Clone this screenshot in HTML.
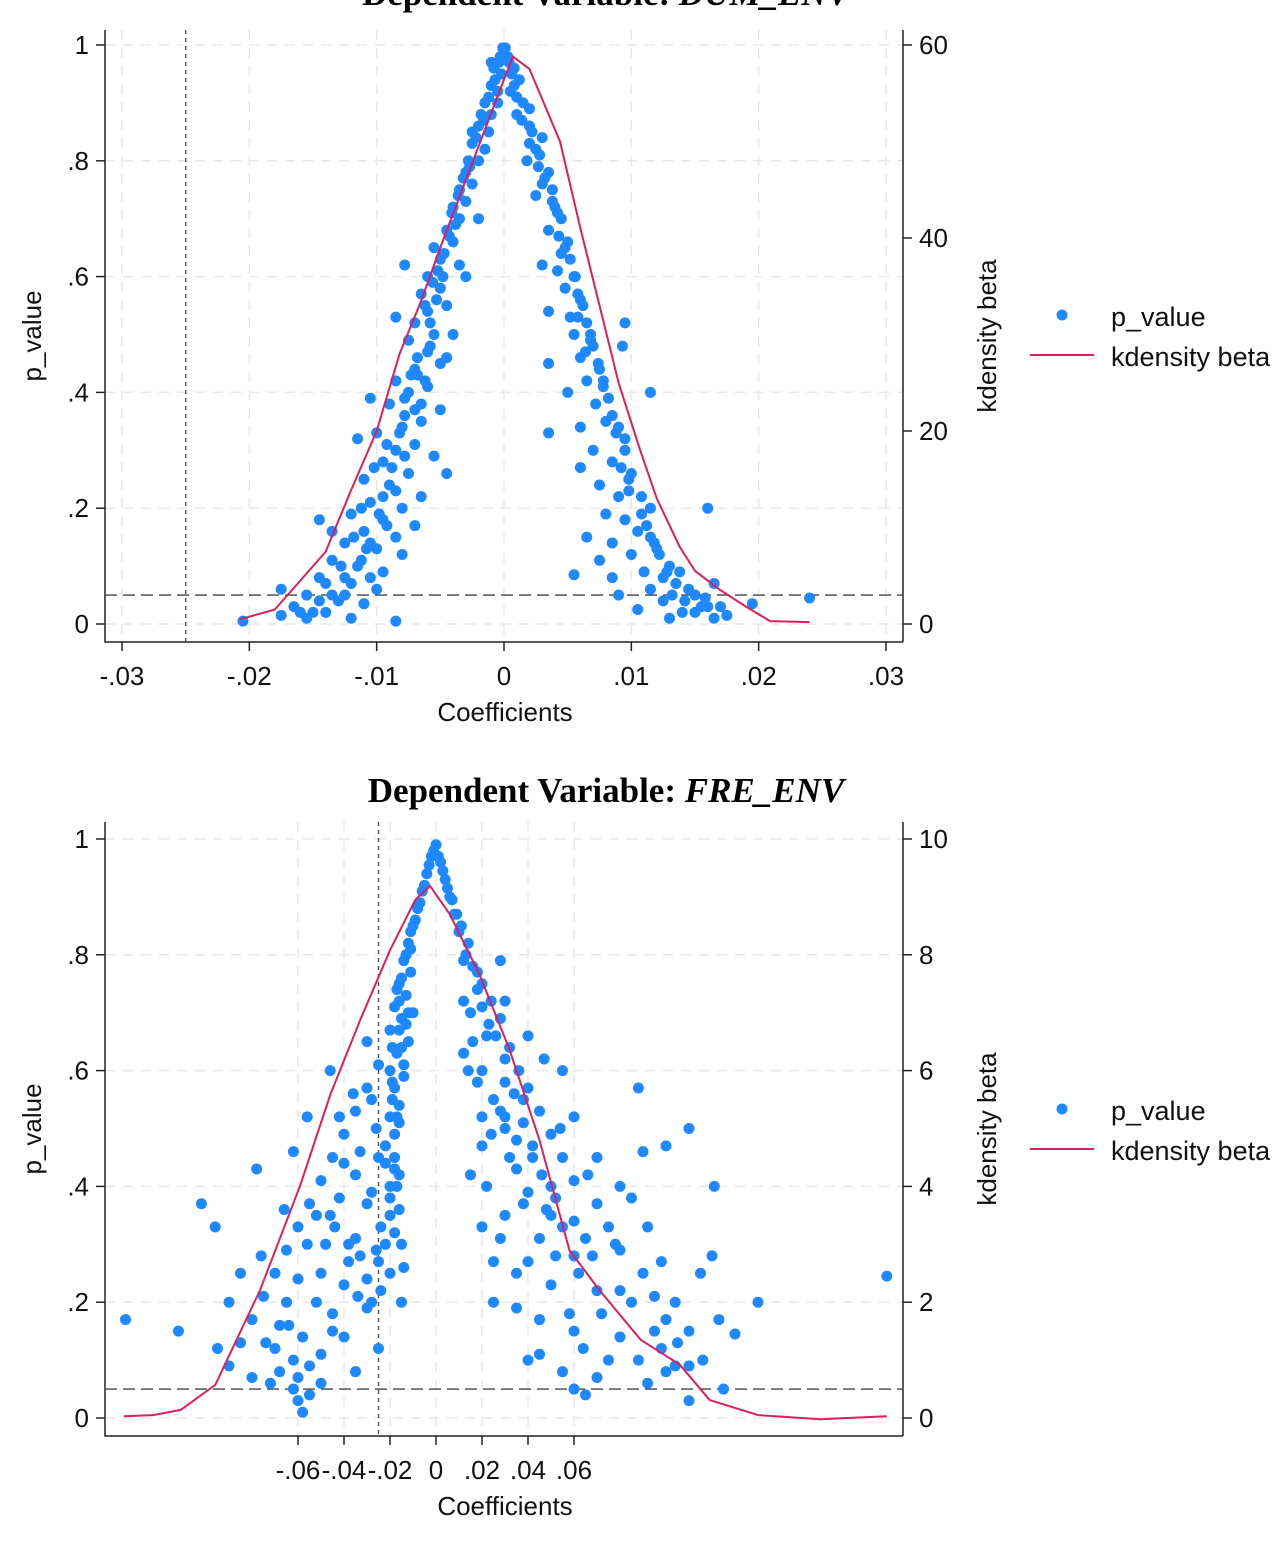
<!DOCTYPE html>
<html><head><meta charset="utf-8">
<style>
html,body{margin:0;padding:0;background:#fff;}
svg{display:block;font-family:"Liberation Sans",sans-serif;}
</style></head>
<body>
<svg id="chart" width="1281" height="1548" viewBox="0 0 1281 1548" xmlns="http://www.w3.org/2000/svg"></svg>
<script>
// ---------- DATA: top chart (DUM_ENV) ----------
const topXTicks = [-0.03,-0.02,-0.01,0,0.01,0.02,0.03];
const topXTickLabels = ["-.03","-.02","-.01","0",".01",".02",".03"];
const pTicks = [0,0.2,0.4,0.6,0.8,1];
const pTickLabels = ["0",".2",".4",".6",".8","1"];
const topDensTicks = [0,20,40,60];
const topDensX = [-0.0207,-0.018,-0.016,-0.014,-0.012,-0.010,-0.0082,-0.0065,-0.005,-0.003,-0.001,0.0007,0.002,0.0044,0.006,0.0075,0.009,0.0107,0.012,0.0138,0.015,0.017,0.019,0.0209,0.024];
const topDensY = [0.5,1.5,4.5,7.5,13.9,20,28,33.5,39,46,53,58.8,57.5,50,41,33,25,18,13,8,5.5,3.5,1.8,0.3,0.2];
const topPts = [
[-0.0003,.98],[-0.0008,.96],[-0.0002,.95],[-0.001,.93],[-0.0005,.92],[-0.0015,.9],[-0.001,.88],[-0.002,.86],[-0.0012,.85],[-0.0025,.83],[-0.0015,.82],[-0.002,.8],[-0.003,.78],[-0.0025,.76],[-0.0035,.75],[-0.003,.73],[-0.004,.72],[-0.0035,.7],[-0.0045,.68],[-0.004,.66],[-0.0055,.65],[-0.005,.63],[-0.0035,.62],[-0.006,.6],[-0.005,.58],[-0.0065,.57],[-0.0045,.55],[-0.006,.54],[-0.007,.52],[-0.0055,.5],[-0.0075,.49],[-0.006,.47],[-0.0045,.46],[-0.007,.44],[-0.0085,.42],[-0.006,.41],[-0.0075,.4],[-0.009,.38],[-0.005,.37],[-0.0065,.35],[-0.008,.34],[-0.01,.33],[-0.007,.31],[-0.0085,.3],[-0.0055,.29],[-0.0095,.28],[-0.0075,.26],[-0.011,.25],[-0.009,.24],[-0.0065,.22],[-0.0105,.21],[-0.008,.2],[-0.012,.19],[-0.0095,.18],[-0.007,.17],[-0.011,.16],[-0.0085,.15],[-0.0125,.14],[-0.01,.13],[-0.008,.12],[-0.0135,.11],[-0.0115,.1],[-0.0095,.09],[-0.0145,.08],[-0.012,.07],[-0.01,.06],[-0.0155,.05],[-0.013,.04],[-0.011,.035],[-0.0165,.03],[-0.014,.02],[-0.0175,.015],[-0.0155,.01],[-0.0205,.005],[-0.012,.01],[-0.0085,.005],[-0.0175,.06],[-0.0078,.62],[-0.0085,.53],[-0.0105,.39],[-0.0115,.32],[-0.0145,.18],[-0.0135,.16],[-0.0045,.26],[-0.0005,.9],[-0.0025,.85],[-0.002,.7],[-0.003,.6],[-0.004,.5],[-0.005,.45],[-0.0065,.38],[-0.001,.97],[-0.0018,.88],[-0.0028,.8],[-0.0038,.69],[-0.0048,.6],[-0.0058,.52],[-0.0068,.43],[-0.0078,.36],[-0.0088,.27],[-0.0098,.19],[-0.0108,.13],[-0.0125,.08],[-0.0135,.05],[-0.015,.02],
[0.0003,.98],[0.0008,.96],[0.0012,.94],[0.0005,.92],[0.0015,.9],[0.001,.88],[0.002,.86],[0.003,.84],[0.0025,.82],[0.0018,.8],[0.0035,.78],[0.003,.76],[0.0025,.74],[0.004,.72],[0.0045,.7],[0.0035,.68],[0.005,.66],[0.0045,.64],[0.003,.62],[0.0055,.6],[0.0048,.58],[0.006,.56],[0.0035,.54],[0.0065,.52],[0.0055,.5],[0.007,.48],[0.006,.46],[0.0035,.45],[0.0075,.44],[0.0065,.42],[0.005,.4],[0.0072,.38],[0.0085,.36],[0.006,.34],[0.0035,.33],[0.0095,.32],[0.007,.3],[0.0085,.28],[0.006,.27],[0.01,.26],[0.0075,.24],[0.009,.22],[0.0115,.2],[0.008,.19],[0.0095,.18],[0.0105,.16],[0.0065,.15],[0.0085,.14],[0.012,.13],[0.01,.12],[0.0075,.11],[0.013,.1],[0.011,.09],[0.0085,.08],[0.0055,.085],[0.0135,.07],[0.0115,.06],[0.009,.05],[0.015,.05],[0.0125,.04],[0.016,.03],[0.0105,.025],[0.014,.02],[0.0175,.015],[0.013,.01],[0.0165,.01],[0.0195,.035],[0.024,.045],[0.016,.2],[0.0115,.4],[0.0095,.52],[0.0093,.48],[0.0165,.07],[0.0008,.93],[0.002,.89],[0.0028,.81],[0.0038,.73],[0.0048,.65],[0.0058,.57],[0.0068,.49],[0.0078,.41],[0.0088,.33],[0.0098,.25],[0.0108,.19],[0.0118,.14],[0.0128,.09],[0.0145,.06],[0.0155,.03],[0.0042,.61],[0.0052,.53],
[-0.0001,.995],[-0.0004,.97],[-0.0007,.94],[-0.0012,.91],[-0.0016,.87],[-0.0022,.84],[-0.0027,.79],[-0.0032,.77],[-0.0036,.74],[-0.0041,.71],[-0.0043,.67],[-0.0047,.64],[-0.0052,.61],[-0.0056,.59],[-0.0053,.56],[-0.0062,.55],[-0.0058,.48],[-0.0068,.46],[-0.0073,.43],[-0.0062,.42],[-0.0078,.39],[-0.007,.37],[-0.0082,.33],[-0.0092,.31],[-0.0078,.29],[-0.0102,.27],[-0.0085,.23],[-0.0095,.22],[-0.0112,.2],[-0.0092,.17],[-0.0118,.15],[-0.0105,.14],[-0.0112,.11],[-0.0128,.1],[-0.0105,.08],[-0.014,.07],[-0.0125,.05],[-0.0145,.04],[-0.016,.02],
[0.0001,.995],[0.0004,.97],[0.0006,.95],[0.001,.91],[0.0014,.87],[0.0022,.85],[0.002,.83],[0.0027,.79],[0.0032,.77],[0.0038,.75],[0.0042,.71],[0.0043,.67],[0.0052,.63],[0.0056,.6],[0.0062,.55],[0.0058,.53],[0.0068,.5],[0.0064,.47],[0.0074,.45],[0.0078,.42],[0.0082,.39],[0.008,.35],[0.009,.34],[0.0095,.3],[0.0092,.27],[0.0098,.23],[0.0108,.22],[0.0112,.17],[0.0115,.15],[0.0122,.12],[0.0125,.08],[0.0138,.09],[0.0132,.05],[0.0142,.04],[0.015,.02],[0.0158,.045],[0.017,.03]
];

// ---------- DATA: bottom chart (FRE_ENV) ----------
const botXTicks = [-0.06,-0.04,-0.02,0,0.02,0.04,0.06];
const botXTickLabels = ["-.06","-.04","-.02","0",".02",".04",".06"];
const botDensTicks = [0,2,4,6,8,10];
const botDensX = [-0.1357,-0.123,-0.111,-0.096,-0.0765,-0.059,-0.046,-0.033,-0.02,-0.009,-0.0026,0.006,0.019,0.032,0.045,0.058,0.071,0.089,0.106,0.119,0.14,0.167,0.196];
const botDensY = [0.03,0.05,0.14,0.57,2.21,4.02,5.58,6.87,8.08,8.95,9.19,8.7,7.65,6.36,4.8,2.9,2.21,1.35,0.92,0.31,0.05,-0.02,0.03];
const botPts = [
[0,.99],[-0.002,.97],[0.002,.96],[-0.004,.94],[0.004,.93],[-0.006,.91],[0.006,.9],[-0.008,.88],[0.008,.87],[-0.01,.85],[0.01,.84],[-0.012,.82],[0.014,.82],[-0.014,.79],[0.012,.79],[-0.011,.77],[0.018,.77],[-0.016,.75],[0.02,.75],[-0.013,.73],[0.024,.72],[-0.018,.71],[0.015,.7],[-0.015,.69],[0.028,.69],[-0.02,.67],[0.022,.66],[-0.012,.65],[0.032,.64],[-0.017,.63],[0.012,.63],[-0.025,.61],[0.036,.6],[-0.014,.59],[0.018,.58],[-0.03,.57],[0.04,.57],[-0.019,.55],[0.025,.55],[-0.035,.53],[0.045,.53],[-0.016,.51],[0.03,.5],[-0.04,.49],[0.05,.49],[-0.022,.47],[0.02,.47],[-0.045,.45],[0.055,.45],[-0.018,.43],[0.035,.43],[-0.05,.41],[0.06,.41],[-0.028,.39],[0.04,.39],[-0.055,.37],[0.07,.37],[-0.02,.35],[0.03,.35],[-0.06,.33],[0.075,.33],[-0.035,.31],[0.045,.31],[-0.065,.29],[0.08,.29],[-0.025,.27],[0.025,.27],[-0.07,.25],[0.09,.25],[-0.04,.23],[0.05,.23],[-0.075,.21],[0.095,.21],[-0.03,.19],[0.035,.19],[-0.08,.17],[0.1,.17],[-0.045,.15],[0.06,.15],[-0.085,.13],[0.105,.13],[-0.05,.11],[0.045,.11],[-0.09,.09],[0.11,.09],[-0.06,.07],[0.07,.07],[-0.055,.04],[0.065,.04],[-0.058,.01],[-0.06,.03],[0.11,.03],[-0.135,.17],[-0.112,.15],[-0.102,.37],[-0.096,.33],[-0.078,.43],[-0.062,.46],[0.11,.5],[0.121,.4],[0.14,.2],[0.196,.245],[0.13,.145],[0.123,.17],[0.088,.57],[0.1,.47],[0.09,.46],[-0.011,.81],[0.028,.79],[-0.036,.56],[-0.026,.5],[-0.046,.35],[-0.033,.28],[-0.015,.3],[-0.017,.4],[-0.04,.44],[-0.07,.12],[-0.065,.2],[0.04,.1],[0.06,.05],[0.085,.2],[0.075,.1],[0.05,.35],[0.06,.28],[0.015,.42],[0.02,.33],[-0.05,.25],[-0.045,.18],[-0.035,.08],[-0.025,.12],[-0.015,.2],[-0.02,.25],[-0.03,.37],[-0.025,.45],[-0.02,.6],[-0.01,.7],[0.02,.6],[0.03,.52],[0.035,.48],[0.05,.4],[0.065,.31],[0.08,.22],[0.095,.15],[0.1,.08],[0.115,.25],[0.12,.28],[0.055,.6],
[-0.016,.36],[-0.018,.45],[-0.017,.52],[-0.019,.58],[-0.015,.64],[-0.013,.68],[-0.016,.72],[-0.02,.4],[-0.022,.3],[-0.024,.22],[-0.038,.3],[-0.042,.38],[-0.048,.3],[-0.052,.2],[-0.058,.14],[-0.062,.1],[-0.068,.16],[-0.072,.06],[-0.08,.07],[-0.085,.25],[-0.09,.2],[-0.095,.12],[-0.076,.28],[-0.066,.36],[-0.056,.52],[-0.046,.6],[-0.03,.65],[-0.035,.42],[-0.028,.2],[-0.04,.14],[-0.05,.06],
[0.012,.72],[0.016,.65],[0.02,.52],[0.022,.4],[0.025,.2],[0.03,.62],[0.038,.55],[0.042,.45],[0.048,.36],[0.052,.28],[0.058,.18],[0.064,.12],[0.07,.22],[0.078,.3],[0.085,.38],[0.092,.33],[0.098,.27],[0.104,.2],[0.11,.15],[0.116,.1],[0.125,.05],[0.055,.08],[0.035,.25],[0.045,.17],[0.04,.66],[0.06,.52],[0.07,.45],[0.08,.4],
[-0.001,.98],[0.001,.97],[-0.003,.955],[0.003,.945],[-0.005,.92],[0.005,.915],[-0.007,.89],[0.007,.895],[-0.009,.86],[0.009,.87],[-0.011,.84],[0.011,.85],[-0.013,.8],[0.013,.8],[-0.015,.76],[0.016,.78],[-0.017,.74],[0.018,.74],[-0.012,.7],[0.02,.71],[-0.016,.67],[0.023,.68],[-0.019,.64],[0.026,.66],[-0.014,.61],[0.014,.6],[-0.018,.57],[0.03,.58],[-0.016,.54],[0.034,.56],[-0.02,.52],[0.028,.53],[-0.018,.49],[0.038,.51],[-0.022,.44],[0.024,.49],[-0.016,.42],[0.042,.47],[-0.02,.38],[0.032,.45],[-0.024,.33],[0.046,.42],[-0.018,.32],[0.038,.37],[-0.026,.29],[0.052,.38],[-0.014,.26],[0.028,.31],[-0.03,.24],[0.055,.33],[-0.034,.21],[0.04,.27],[-0.038,.27],[0.06,.34],[-0.044,.33],[0.062,.25],[-0.052,.35],[0.068,.28],[-0.056,.3],[0.072,.18],[-0.06,.24],[0.08,.14],[-0.064,.16],[0.088,.1],[-0.068,.08],[0.092,.06],[-0.074,.13],[0.098,.12],[-0.062,.05],[0.104,.09],[-0.055,.09],[0.03,.72],[-0.028,.55],[0.047,.62],[-0.033,.46],[0.054,.5],[-0.042,.52],[0.066,.42]
];

const NS="http://www.w3.org/2000/svg";
const svg=document.getElementById('chart');
function mk(tag,attrs,parent){const e=document.createElementNS(NS,tag);for(const k in attrs)e.setAttribute(k,attrs[k]);(parent||svg).appendChild(e);return e;}
function txt(s,attrs,parent){const e=mk('text',attrs,parent);e.textContent=s;return e;}

function drawPanel(cfg){
  const g=mk('g',{});
  
  
  const xs=v=>cfg.x0+(v-cfg.xv0)*cfg.xk;
  const ys=p=>cfg.yBot-(p)*(cfg.yBot-cfg.yTop);
  const yd=d=>cfg.yBot-(d/cfg.dMax)*(cfg.yBot-cfg.yTop);
  cfg.xTicks.forEach(t=>{const l=mk('line',{x1:xs(t),x2:xs(t),y1:cfg.axTop,y2:cfg.axBot,stroke:'#e8e8e8','stroke-width':1.5,'stroke-dasharray':'10,8'},g);
    });
  pTicks.forEach(t=>{const l=mk('line',{x1:cfg.axL,x2:cfg.axR,y1:ys(t),y2:ys(t),stroke:'#e8e8e8','stroke-width':1.5,'stroke-dasharray':'10,8'},g);
    });
  const ax=mk('path',{d:`M${cfg.axL},${cfg.axTop}V${cfg.axBot}H${cfg.axR}M${cfg.axR},${cfg.axTop}V${cfg.axBot}`,stroke:'#222','stroke-width':1.5,fill:'none'},g);
  
  pTicks.forEach((t,i)=>{mk('line',{x1:cfg.axL-9,x2:cfg.axL,y1:ys(t),y2:ys(t),stroke:'#222','stroke-width':1.5},g);
    const tl=txt(pTickLabels[i],{x:cfg.axL-16,y:ys(t)+9,'text-anchor':'end','font-size':26,fill:'#111'},g);
    });
  cfg.dTicks.forEach(t=>{mk('line',{x1:cfg.axR,x2:cfg.axR+9,y1:yd(t),y2:yd(t),stroke:'#222','stroke-width':1.5},g);
    const tl=txt(String(t),{x:cfg.axR+16,y:yd(t)+9,'font-size':26,fill:'#111'},g);
    });
  cfg.xTicks.forEach((t,i)=>{mk('line',{x1:xs(t),x2:xs(t),y1:cfg.axBot,y2:cfg.axBot+9,stroke:'#222','stroke-width':1.5},g);
    const tl=txt(cfg.xLabels[i],{x:xs(t),y:cfg.axBot+43,'text-anchor':'middle','font-size':26,fill:'#111'},g);
    });
  const vl=mk('line',{x1:xs(-0.025),x2:xs(-0.025),y1:cfg.axTop,y2:cfg.axBot,stroke:'#444','stroke-width':1.3,'stroke-dasharray':'4,4'},g);
  
  const hl=mk('line',{x1:cfg.axL,x2:cfg.axR,y1:ys(0.05),y2:ys(0.05),stroke:'#444','stroke-width':1.3,'stroke-dasharray':'12,6'},g);
  
  cfg.pts.forEach(pt=>{const c=mk('circle',{cx:xs(pt[0]),cy:ys(pt[1]),r:5.5,fill:'#1e88ff'},g);
    });
  const d=cfg.dx.map((x,i)=>(i?'L':'M')+xs(x).toFixed(1)+','+yd(cfg.dy[i]).toFixed(1)).join('');
  const pl=mk('path',{d:d,stroke:'#dc1f5a','stroke-width':2,fill:'none','stroke-linejoin':'round'},g);
  
  const t1=txt('Coefficients',{x:505,y:cfg.axBot+79,'text-anchor':'middle','font-size':26,fill:'#111'},g);
  
  const cy=(cfg.axTop+cfg.axBot)/2;
  const t2=txt('p_value',{x:41,y:cy,'text-anchor':'middle','font-size':26,fill:'#111',transform:`rotate(-90 41 ${cy})`},g);
  
  const t3=txt('kdensity beta',{x:996,y:cy,'text-anchor':'middle','font-size':26,fill:'#111',transform:`rotate(-90 996 ${cy})`},g);
  
  const tt=txt('',{x:606,y:cfg.titleY,'text-anchor':'middle','font-size':35,'font-weight':'bold','font-family':'"Liberation Serif",serif',fill:'#000'},g);
  
  tt.appendChild(document.createTextNode('Dependent Variable: '));
  const it=mk('tspan',{'font-style':'italic'},tt);it.textContent=cfg.dep;
  const lg=mk('g',{},g);
  
  mk('circle',{cx:1062,cy:cfg.legY,r:5.5,fill:'#1e88ff'},lg);
  txt('p_value',{x:1111,y:cfg.legY+11,'font-size':27,fill:'#111'},lg);
  mk('line',{x1:1030,x2:1094,y1:cfg.legY+40,y2:cfg.legY+40,stroke:'#dc1f5a','stroke-width':2},lg);
  txt('kdensity beta',{x:1111,y:cfg.legY+51,'font-size':27,fill:'#111'},lg);
}

drawPanel({name:'top-panel',dep:'DUM_ENV',titleY:5,x0:504,xv0:0,xk:12733,yTop:45,yBot:624,dMax:60,
  axL:105,axR:903,axTop:30,axBot:642,xTicks:topXTicks,xLabels:topXTickLabels,dTicks:topDensTicks,
  dx:topDensX,dy:topDensY,pts:topPts,legY:315});
drawPanel({name:'bottom-panel',dep:'FRE_ENV',titleY:802,x0:436,xv0:0,xk:2300,yTop:839,yBot:1418,dMax:10,
  axL:105,axR:903,axTop:822,axBot:1436,xTicks:botXTicks,xLabels:botXTickLabels,dTicks:botDensTicks,
  dx:botDensX,dy:botDensY,pts:botPts,legY:1109});
</script>
</body></html>
